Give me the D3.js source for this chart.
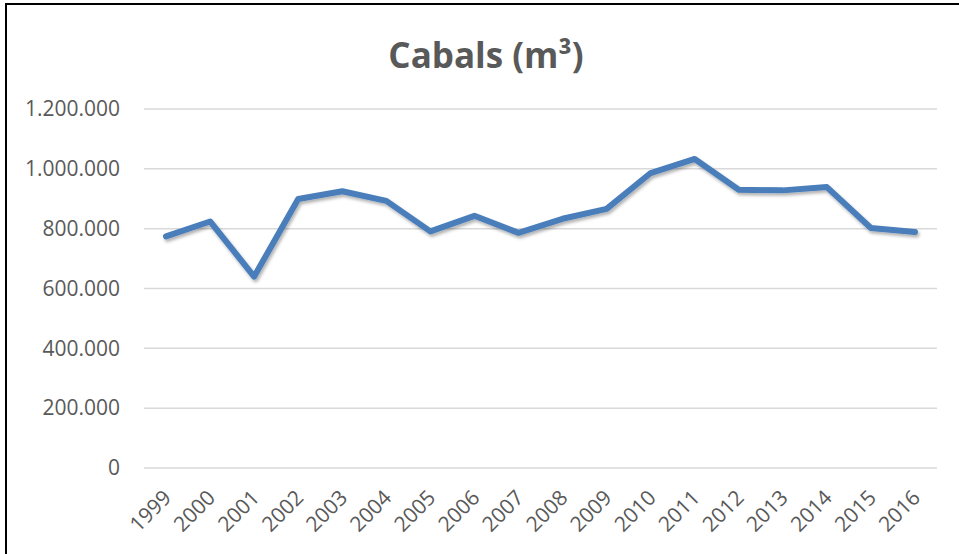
<!DOCTYPE html>
<html>
<head>
<meta charset="utf-8">
<script src="https://cdn.jsdelivr.net/npm/d3@7"></script>
<style>
  body { margin: 0; background: #fff; }
  text { font-family: "Open Sans", sans-serif; fill: #595959; }
</style>
</head>
<body>
<div id="chart"></div>
<script>
// Data
const years = ["1999", "2000", "2001", "2002", "2003", "2004", "2005", "2006", "2007",
               "2008", "2009", "2010", "2011", "2012", "2013", "2014", "2015", "2016"];
const cabals = [774000, 824000, 640000, 899000, 925000, 893000, 791000, 843000, 786000,
                833000, 866000, 986000, 1033000, 930000, 928000, 939000, 802000, 789000];
const yTicks = [0, 200000, 400000, 600000, 800000, 1000000, 1200000];

const width = 959;
const height = 554;
const margin = { top: 109, right: 22, bottom: 86, left: 144 };
const innerW = width - margin.left - margin.right;
const innerH = height - margin.top - margin.bottom;

const svg = d3.select("#chart").append("svg")
    .attr("width", width)
    .attr("height", height);

// Drop shadow for the line
const defs = svg.append("defs");
const filter = defs.append("filter")
    .attr("id", "shadow")
    .attr("x", "-10%").attr("y", "-10%")
    .attr("width", "120%").attr("height", "130%");
filter.append("feDropShadow")
    .attr("dx", 1.5).attr("dy", 2.5)
    .attr("stdDeviation", 1.5)
    .attr("flood-color", "#000")
    .attr("flood-opacity", 0.3);

// Outer frame (left and top edges only are visible)
svg.append("path")
    .attr("d", `M6,${height} V4 H${width}`)
    .attr("fill", "none")
    .attr("stroke", "#000")
    .attr("stroke-width", 2);

// Title
svg.append("text")
    .attr("x", 486)
    .attr("y", 68)
    .attr("text-anchor", "middle")
    .style("font-size", "35px")
    .style("font-weight", "bold")
    .text("Cabals (m³)");

const g = svg.append("g")
    .attr("transform", `translate(${margin.left},${margin.top})`);

// Scales
const x = d3.scalePoint()
    .domain(years)
    .range([0, innerW])
    .padding(0.5);

const y = d3.scaleLinear()
    .domain([0, 1200000])
    .range([innerH, 0]);

const locale = d3.formatLocale({ decimal: ",", thousands: ".", grouping: [3], currency: ["", "€"] });
const fmt = locale.format(",.0f");

// Gridlines
g.append("g")
    .selectAll("line")
    .data(yTicks)
    .enter().append("line")
    .attr("x1", 0)
    .attr("x2", innerW)
    .attr("y1", d => y(d))
    .attr("y2", d => y(d))
    .attr("stroke", "#d9d9d9")
    .attr("stroke-width", 1.5);

// Y axis
const yAxis = g.append("g")
    .call(d3.axisLeft(y).tickValues(yTicks).tickSize(0).tickPadding(24).tickFormat(fmt));
yAxis.select(".domain").remove();
yAxis.selectAll("text")
    .style("font-size", "21px")
    .style("font-family", "'Open Sans', sans-serif")
    .attr("fill", "#595959");

// X axis
const xAxis = g.append("g")
    .attr("transform", `translate(0,${innerH})`)
    .call(d3.axisBottom(x).tickSize(0));
xAxis.select(".domain").remove();
xAxis.selectAll("text")
    .style("font-size", "21px")
    .style("font-family", "'Open Sans', sans-serif")
    .attr("fill", "#595959")
    .style("text-anchor", "end")
    .attr("x", 0)
    .attr("y", 0)
    .attr("dy", 0)
    .attr("transform", "translate(6,31) rotate(-45)");

// Line
const line = d3.line()
    .x((d, i) => x(years[i]))
    .y(d => y(d));

g.append("path")
    .datum(cabals)
    .attr("fill", "none")
    .attr("stroke", "#4a7ebb")
    .attr("stroke-width", 6)
    .attr("stroke-linejoin", "round")
    .attr("stroke-linecap", "round")
    .attr("filter", "url(#shadow)")
    .attr("d", line);
</script>
</body>
</html>
